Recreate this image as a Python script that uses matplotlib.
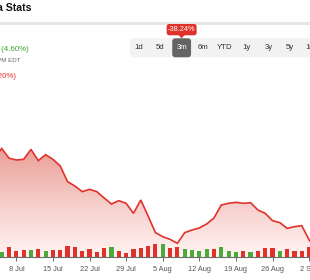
import numpy as np
import matplotlib.pyplot as plt
from matplotlib.colors import LinearSegmentedColormap
from matplotlib.patches import FancyBboxPatch, PathPatch, Polygon, Rectangle
from matplotlib.transforms import Affine2D

plt.rcParams['font.family'] = ['Liberation Sans', 'DejaVu Sans']

# closing prices, one per trading day (first and last fall just outside the crop)
prices = [19.43, 20.00, 19.42, 19.31, 19.35, 19.95, 19.27, 19.63, 19.35, 18.95,
          18.01, 17.75, 17.41, 17.55, 17.41, 17.03, 16.67, 16.87, 16.71, 16.11,
          16.91, 15.95, 14.95, 14.71, 14.55, 14.31, 14.95, 15.11, 15.23, 15.47,
          15.83, 16.61, 16.71, 16.77, 16.71, 16.75, 16.31, 16.11, 15.67, 15.55,
          15.21, 15.31, 15.37, 14.51, 13.91]
price_days = np.arange(-1, 44)

# volume in millions, and whether the day closed up
volumes = [1.5, 3.2, 2.0, 2.3, 2.3, 2.6, 2.0, 2.1, 2.3, 3.4,
           3.2, 1.9, 2.5, 1.5, 2.7, 3.1, 2.0, 1.4, 2.5, 2.9,
           3.5, 4.0, 4.1, 2.9, 3.2, 2.6, 2.3, 2.0, 2.5, 2.4,
           3.1, 2.0, 1.6, 1.8, 1.5, 2.0, 2.8, 2.9, 1.8, 2.6,
           2.0, 2.0, 3.1]
up_day = [1, 0, 0, 0, 1, 0, 1, 0, 0, 0,
          0, 0, 0, 0, 0, 1, 0, 0, 0, 0,
          0, 0, 1, 0, 0, 1, 1, 1, 1, 0,
          1, 1, 1, 0, 1, 0, 0, 0, 1, 0,
          0, 0, 0]
vol_days = np.arange(len(volumes))

tick_days = [2, 7, 12, 17, 22, 27, 32, 37, 42]
tick_labels = ['8 Jul', '15 Jul', '22 Jul', '29 Jul', '5 Aug', '12 Aug',
               '19 Aug', '26 Aug', '2 Sep']

ranges = ['1d', '5d', '3m', '6m', 'YTD', '1y', '3y', '5y', '10y']
selected = '3m'
change_3m = '-38.24%'

RED = '#e0322b'
GREEN = '#4bab3a'
W, H = 310, 280

fig = plt.figure(figsize=(W / 100, H / 100), dpi=100)
# pixel coordinates measured from the top-left corner
px = Affine2D().scale(1 / W, -1 / H).translate(0, 1) + fig.transFigure

# ---- chart area ----
bottom = (H - 257.3) / H
top = (H - 140) / H
ax = fig.add_axes([0, bottom, 1, top - bottom])
ax.set_xlim(-0.232, 42.12)
ax.set_ylim(13.472, 20.51)
ax.patch.set_visible(False)

y0 = ax.get_ylim()[0]
poly = ax.fill_between(price_days, prices, y0, facecolor='none', edgecolor='none')
clip = PathPatch(poly.get_paths()[0], transform=ax.transData,
                 facecolor='none', edgecolor='none')
ax.add_patch(clip)
cmap = LinearSegmentedColormap.from_list('fade', ['#fff4f3', '#f6cdc9', '#eb9f98'])
grad = np.linspace(0, 1, 256).reshape(-1, 1)
im = ax.imshow(grad, cmap=cmap, origin='lower', aspect='auto',
               extent=[-2, 45, y0, max(prices)], zorder=1)
im.set_clip_path(clip)
ax.plot(price_days, prices, color=RED, lw=1.2, zorder=3, solid_joinstyle='miter')

for s in ['top', 'right', 'left']:
    ax.spines[s].set_visible(False)
ax.spines['bottom'].set_color('#6b6b6b')
ax.spines['bottom'].set_linewidth(0.8)
ax.set_yticks([])
ax.set_xticks(tick_days)
ax.set_xticklabels(tick_labels, fontsize=5.3, color='#555555')
ax.tick_params(axis='x', direction='out', length=3.2, width=0.7,
               color='#6b6b6b', pad=3.2)

# volume bars share the same baseline
axv = fig.add_axes([0, bottom, 1, top - bottom], sharex=ax)
axv.set_ylim(0, 35.19)
axv.patch.set_visible(False)
axv.axis('off')
bar_colors = [GREEN if u else RED for u in up_day]
axv.bar(vol_days, volumes, width=0.57, color=bar_colors, zorder=2)

# ---- header ----
fig.text(31, 8, 'Data Stats', transform=px, ha='right', va='center',
         fontsize=7.6, fontweight='bold', color='#111111')
fig.patches.append(Rectangle((0, 22), W, 2.7, transform=px,
                             facecolor='#e6e6e6', edgecolor='none'))

fig.text(29, 49.3, '+0.53 (4.60%)', transform=px, ha='right', va='center',
         fontsize=5.7, color='#3da52e')
fig.text(20.5, 61, 'At close: 4:00 PM EDT', transform=px, ha='right',
         va='center', fontsize=4.4, color='#666666')
fig.text(15.5, 77, '-0.02 (-0.20%)', transform=px, ha='right', va='center',
         fontsize=5.7, color=RED)

# range selector
fig.patches.append(FancyBboxPatch((130, 38.3), 200, 19, transform=px,
                                  boxstyle='round,pad=0,rounding_size=3',
                                  facecolor='#f2f2f2', edgecolor='none'))
for k, r in enumerate(ranges):
    xc = 138.3 + 21.67 * k
    if r == selected:
        fig.patches.append(FancyBboxPatch((xc - 9.4, 38.3), 18.8, 19, transform=px,
                                          boxstyle='round,pad=0,rounding_size=3',
                                          facecolor='#646464', edgecolor='none'))
        fig.text(xc, 47.7, r, transform=px, ha='center', va='center',
                 fontsize=5.6, color='white')
        # tooltip with the period change
        fig.patches.append(FancyBboxPatch((xc - 15, 24), 30, 11.3, transform=px,
                                          boxstyle='round,pad=0,rounding_size=2.5',
                                          facecolor=RED, edgecolor='none'))
        fig.patches.append(Polygon([(xc - 3, 35), (xc + 3, 35), (xc, 38.3)],
                                   closed=True, transform=px,
                                   facecolor=RED, edgecolor='none'))
        fig.text(xc, 29.8, change_3m, transform=px, ha='center', va='center',
                 fontsize=5.3, color='white')
    else:
        fig.text(xc, 47.7, r, transform=px, ha='center', va='center',
                 fontsize=5.6, color='#333333')

fig.savefig('out.png', dpi=100)
